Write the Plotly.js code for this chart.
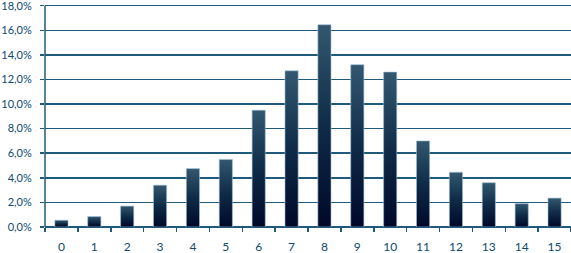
<!DOCTYPE html>
<html>
<head>
<meta charset="utf-8">
<script src="https://cdn.plot.ly/plotly-3.0.1.min.js"></script>
<style>html,body{margin:0;padding:0;background:#fff;}#chart{width:571px;height:253px;}</style>
</head>
<body>
<div id="chart"></div>
<script>
const categories = ["0","1","2","3","4","5","6","7","8","9","10","11","12","13","14","15"];
const values = [0.55, 0.85, 1.7, 3.4, 4.75, 5.5, 9.5, 12.7, 16.45, 13.2, 12.6, 7.0, 4.45, 3.6, 1.9, 2.35];
const yTicks = [0, 2, 4, 6, 8, 10, 12, 14, 16, 18];
const yTickLabels = ["0,0%", "2,0%", "4,0%", "6,0%", "8,0%", "10,0%", "12,0%", "14,0%", "16,0%", "18,0%"];

const textColor = '#0d4a6e';
const gridColor = '#1f5a7d';

const trace = {
  type: 'bar',
  x: categories,
  y: values,
  width: 0.4,
  marker: { color: '#14324e', line: { color: '#9dbdd2', width: 0.6 } },
  hoverinfo: 'skip'
};

const layout = {
  width: 571, height: 253,
  margin: { l: 45, r: 0, t: 2, b: 26, pad: 0 },
  paper_bgcolor: '#ffffff', plot_bgcolor: '#ffffff',
  showlegend: false,
  font: { family: 'Lato, "Open Sans", sans-serif', size: 12, color: textColor },
  xaxis: {
    type: 'category',
    range: [-0.5, 15.5],
    showgrid: false,
    ticks: 'outside', tickson: 'boundaries', ticklen: 4, tickwidth: 1.5, tickcolor: gridColor,
    showline: false,
    zeroline: false,
    tickfont: { size: 12, color: textColor },
    ticklabelstandoff: 11
  },
  yaxis: {
    range: [0, 18.3],
    tickmode: 'array',
    tickvals: yTicks,
    ticktext: yTickLabels,
    showgrid: true, gridcolor: gridColor, gridwidth: 1.5,
    zeroline: true, zerolinecolor: gridColor, zerolinewidth: 1.5,
    showline: false,
    ticks: 'outside', ticklen: 4, tickwidth: 1.5, tickcolor: gridColor,
    tickfont: { size: 11, color: textColor },
    ticklabelstandoff: 6,
    ticklabeloverflow: 'allow',
    automargin: false
  },
  shapes: [{
    type: 'line', xref: 'paper', yref: 'y', x0: 0, x1: 0, y0: 0, y1: yTicks[yTicks.length - 1],
    line: { color: gridColor, width: 1.5 }
  }]
};

Plotly.newPlot('chart', [trace], layout, { staticPlot: true, displayModeBar: false }).then(gd => {
  const svg = gd.querySelector('svg.main-svg');
  const ns = 'http://www.w3.org/2000/svg';
  let defs = svg.querySelector('defs');
  if (!defs) { defs = document.createElementNS(ns, 'defs'); svg.insertBefore(defs, svg.firstChild); }
  const lg = document.createElementNS(ns, 'linearGradient');
  lg.setAttribute('id', 'barGrad');
  lg.setAttribute('x1', '0'); lg.setAttribute('y1', '0');
  lg.setAttribute('x2', '0'); lg.setAttribute('y2', '1');
  [['0', '#33586f'], ['0.5', '#0f2b47'], ['1', '#000829']].forEach(([o, c]) => {
    const s = document.createElementNS(ns, 'stop');
    s.setAttribute('offset', o); s.setAttribute('stop-color', c);
    lg.appendChild(s);
  });
  defs.appendChild(lg);
  gd.querySelectorAll('.bars .point path').forEach(p => { p.style.fill = 'url(#barGrad)'; });
  gd.querySelectorAll('.ytick text').forEach(t => { t.style.display = ''; t.style.opacity = 1; });
});
</script>
</body>
</html>
